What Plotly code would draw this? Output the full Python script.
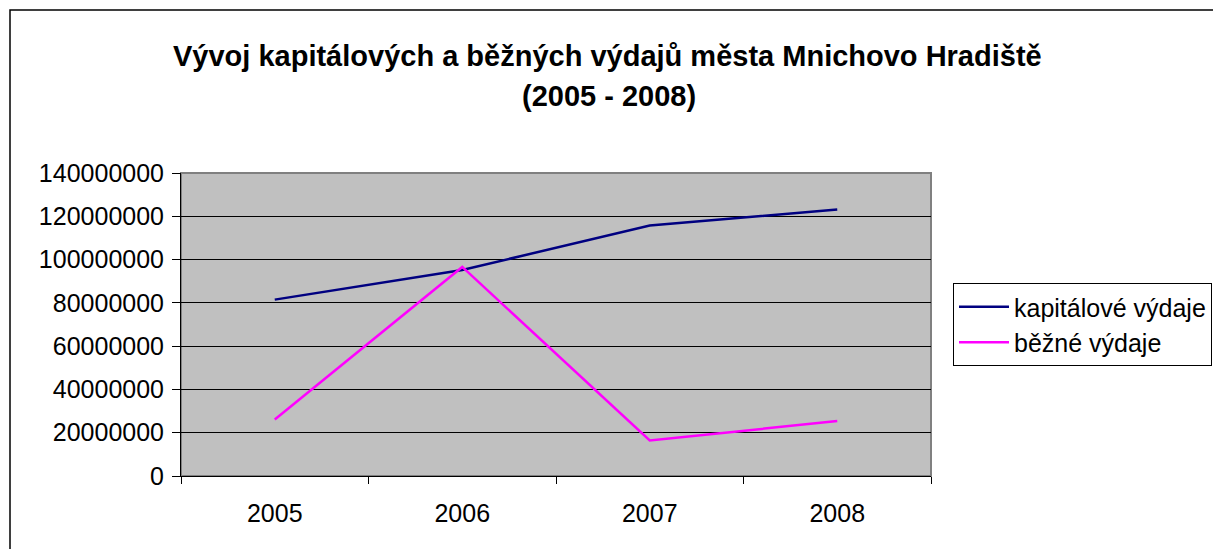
import plotly.graph_objects as go

# Data
years = ['2005', '2006', '2007', '2008']
kapitalove = [81500000, 95200000, 115700000, 123100000]
bezne = [26100000, 96600000, 16400000, 25400000]
y_ticks = [0, 20000000, 40000000, 60000000, 80000000, 100000000, 120000000, 140000000]

FONT = 'Arial, "Liberation Sans", sans-serif'

# plot area in pixels: left 181, right 931, top 173, bottom 476
W, H = 1213, 549
L, R, T, B = 181, 282, 173, 73
pw, ph = W - L - R, H - T - B


def px(x):
    return (x - L) / pw


def py(y):
    return (H - B - y) / ph


fig = go.Figure()

fig.add_trace(go.Scatter(
    x=years, y=kapitalove, mode='lines', name='kapitálové výdaje',
    line={'color': '#000080', 'width': 2.5},
))
fig.add_trace(go.Scatter(
    x=years, y=bezne, mode='lines', name='běžné výdaje',
    line={'color': '#FF00FF', 'width': 2.5},
))

fig.update_layout(
    width=W, height=H,
    margin=dict(l=L, r=R, t=T, b=B, autoexpand=False),
    paper_bgcolor='white',
    plot_bgcolor='#C0C0C0',
    font={'family': FONT, 'color': 'black', 'size': 25},
    xaxis={
        'type': 'category',
        'range': [-0.5, 3.5],
        'tickson': 'boundaries',
        'ticks': 'outside', 'ticklen': 7, 'tickcolor': 'black',
        'showgrid': False,
        'showline': True, 'linecolor': 'black', 'linewidth': 1,
        'tickfont': {'size': 25},
        'ticklabelstandoff': 15,
    },
    yaxis={
        'range': [0, 140000000],
        'tickvals': y_ticks,
        'tickformat': 'd',
        'ticks': 'outside', 'ticklen': 8, 'tickcolor': 'black',
        'showgrid': True, 'gridcolor': 'black', 'gridwidth': 1,
        'zeroline': False,
        'showline': True, 'linecolor': 'black', 'linewidth': 1,
        'tickfont': {'size': 25},
        'ticklabelstandoff': 3,
    },
    legend={
        'x': px(953), 'y': py(283), 'xanchor': 'left', 'yanchor': 'top',
        'bordercolor': 'black', 'borderwidth': 1, 'bgcolor': 'white',
        'font': {'size': 25}, 'tracegroupgap': 0, 'itemwidth': 50,
    },
    showlegend=True,
)

# title, two lines
fig.add_annotation(
    x=px(607), y=py(56), xref='paper', yref='paper', showarrow=False,
    text='<b>Vývoj kapitálových a běžných výdajů města Mnichovo Hradiště</b>',
    font={'size': 29}, xanchor='center', yanchor='middle',
)
fig.add_annotation(
    x=px(609), y=py(96), xref='paper', yref='paper', showarrow=False,
    text='<b>(2005 - 2008)</b>',
    font={'size': 29}, xanchor='center', yanchor='middle',
)

# plot area border (gray) and outer chart frame
fig.add_shape(type='rect', xref='paper', yref='paper', x0=0, y0=0, x1=1, y1=1,
              line={'color': '#808080', 'width': 2}, layer='below')
fig.add_shape(type='rect', xref='paper', yref='paper',
              x0=px(10), y0=py(10), x1=px(1230), y1=py(570),
              line={'color': 'black', 'width': 1.5})

fig.write_html('out.html', config={'displayModeBar': False},
               post_script="document.body.style.margin='0';")
